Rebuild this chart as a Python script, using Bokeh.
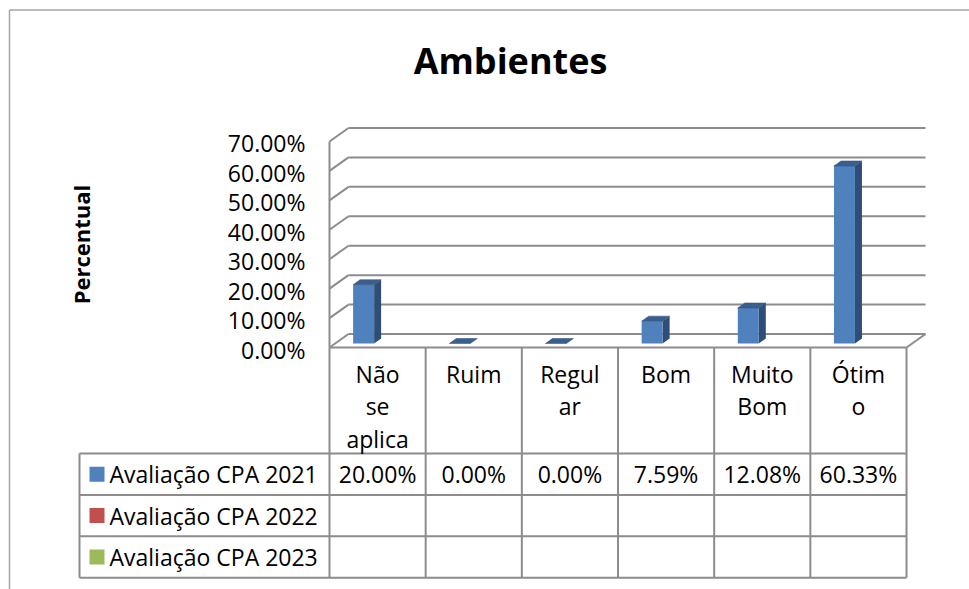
import math
from bokeh.plotting import figure
from bokeh.models import Range1d
from bokeh.core.properties import value
from bokeh.embed import file_html
from bokeh.resources import INLINE

# ---------------- data ----------------
categories = ["Não se aplica", "Ruim", "Regular", "Bom", "Muito Bom", "Ótimo"]
category_lines = ["Não\nse\naplica", "Ruim", "Regul\nar", "Bom", "Muito\nBom", "Ótim\no"]
series_names = ["Avaliação CPA 2021", "Avaliação CPA 2022", "Avaliação CPA 2023"]
values_2021 = [0.20, 0.0, 0.0, 0.0759, 0.1208, 0.6033]
values_2022 = [None, None, None, None, None, None]
values_2023 = [None, None, None, None, None, None]
series_values = [values_2021, values_2022, values_2023]
y_ticks = [0.0, 0.1, 0.2, 0.3, 0.4, 0.5, 0.6, 0.7]
title_text = "Ambientes"
y_label = "Percentual"

# ---------------- layout / style ----------------
W, H = 969, 589
COL_PX = 96.17          # pixels per category column
UNIT_PX = 294.3         # pixels per 100 %
ORIGIN_X, ORIGIN_Y = 329, 347   # canvas px of front-left floor corner
FONT = "Open Sans"
TXT = "23px"
GRID_C = "#8c8c8c"
FRONT_C = ["#4F81BD", "#C0504D", "#9BBB59"]
SIDE_C = ["#2F4D75", "#7A302E", "#5E7A33"]
TOP_C = ["#3A5F8E", "#93403D", "#799848"]

def px_x(px):
    return px / COL_PX

def px_y(px):
    return px / UNIT_PX

xs = -0.5 - px_x(ORIGIN_X)
xe = xs + px_x(W)
ye = px_y(ORIGIN_Y)
ys = ye - px_y(H)

DDX, DDY = px_x(19), px_y(13.5)     # wall depth
BW = px_x(21)                        # bar width
BDX, BDY = px_x(7), px_y(5)          # bar depth
F = 0.37                             # bar depth position
XL, XR = -0.5, len(categories) - 0.5

p = figure(width=W, height=H, x_range=Range1d(xs, xe), y_range=Range1d(ys, ye),
           x_axis_type=None, y_axis_type=None, toolbar_location=None,
           output_backend="svg", min_border=0, outline_line_color=None)
p.grid.visible = False
p.background_fill_color = "white"
p.border_fill_color = "white"

# outer chart border (left and top)
bx = xs + px_x(9)
by = ye - px_y(9.5)
p.segment(x0=[bx, bx], y0=[by, by], x1=[bx, xe], y1=[ys, by], line_color="#a6a6a6", line_width=1.5)

# title
p.text(x=[XL + px_x(510 - ORIGIN_X)], y=[ye - px_y(60)], text=[title_text], text_font=value(FONT),
       text_font_size="36px", text_font_style="bold", text_align="center",
       text_baseline="middle", text_color="black")

# y axis label
p.text(x=[xs + px_x(80)], y=[ye - px_y(244)], text=[y_label], angle=math.pi / 2,
       text_font=value(FONT), text_font_size="22px", text_font_style="bold",
       text_align="center", text_baseline="middle", text_color="black")

# walls: back gridlines, side diagonals, front-left edge, floor
top_v = y_ticks[-1]
p.segment(x0=[XL + DDX] * len(y_ticks), y0=[v + DDY for v in y_ticks],
          x1=[XR + DDX] * len(y_ticks), y1=[v + DDY for v in y_ticks],
          line_color=GRID_C, line_width=2)
p.segment(x0=[XL] * len(y_ticks), y0=y_ticks, x1=[XL + DDX] * len(y_ticks),
          y1=[v + DDY for v in y_ticks], line_color=GRID_C, line_width=2)
p.segment(x0=[XL, XL, XR], y0=[0, 0, 0], x1=[XL, XR, XR + DDX], y1=[top_v, 0, DDY],
          line_color=GRID_C, line_width=2)

# tick labels
p.text(x=[XL - px_x(24)] * len(y_ticks), y=[v - px_y(2) for v in y_ticks],
       text=[f"{v * 100:.2f}%" for v in y_ticks], text_font=value(FONT),
       text_font_size=TXT, text_align="right", text_baseline="middle", text_color="black")

# 3D bars
for s, vals in enumerate(series_values):
    fx, fy, sx, sy, tx, ty = [], [], [], [], [], []
    for i, v in enumerate(vals):
        if v is None:
            continue
        c = i + (s - 1) * BW + F * DDX
        x0, x1 = c - BW / 2, c + BW / 2
        y0 = F * DDY - px_y(1)
        y1 = y0 + v
        fx.append([x0, x1, x1, x0]); fy.append([y0, y0, y1, y1])
        sx.append([x1, x1 + BDX, x1 + BDX, x1]); sy.append([y0, y0 + BDY, y1 + BDY, y1])
        tx.append([x0, x1, x1 + BDX, x0 + BDX]); ty.append([y1, y1, y1 + BDY, y1 + BDY])
    if fx:
        p.patches(sx, sy, fill_color=SIDE_C[s], line_color=None)
        p.patches(fx, fy, fill_color=FRONT_C[s], line_color=None)
        p.patches(tx, ty, fill_color=TOP_C[s], line_color=SIDE_C[s], line_width=0.5)

# data table
HDR = px_y(106)
ROW = px_y(41.4)
LEG_L = XL - px_x(250)
n_rows = len(series_names)
row_top = [-HDR - r * ROW for r in range(n_rows + 1)]
edges = [XL + k for k in range(len(categories) + 1)]
# vertical lines
p.segment(x0=edges, y0=[0] * len(edges), x1=edges, y1=[row_top[-1]] * len(edges),
          line_color=GRID_C, line_width=2)
# horizontal row lines
p.segment(x0=[LEG_L] * len(row_top), y0=row_top, x1=[XR] * len(row_top), y1=row_top,
          line_color=GRID_C, line_width=2)
# legend column left edge
p.segment(x0=[LEG_L], y0=[row_top[0]], x1=[LEG_L], y1=[row_top[-1]],
          line_color=GRID_C, line_width=2)

# category header text
LINE_H = px_y(32.5)
cx, cy, ct = [], [], []
for i, lab in enumerate(category_lines):
    for k, part in enumerate(lab.split("\n")):
        cx.append(i); cy.append(-px_y(26) - k * LINE_H); ct.append(part)
p.text(x=cx, y=cy, text=ct, text_font=value(FONT), text_font_size=TXT,
       text_align="center", text_baseline="middle", text_color="black")

# legend entries + values
row_mid = [row_top[r] - ROW / 2 for r in range(n_rows)]
p.scatter(x=[LEG_L + px_x(17.5)] * n_rows, y=row_mid, marker="square", size=15,
          fill_color=FRONT_C[:n_rows], line_color=None)
p.text(x=[LEG_L + px_x(30)] * n_rows, y=row_mid, text=series_names, text_font=value(FONT),
       text_font_size=TXT, text_align="left", text_baseline="middle", text_color="black")
vx, vy, vt = [], [], []
for r, vals in enumerate(series_values):
    for i, v in enumerate(vals):
        if v is None:
            continue
        vx.append(i); vy.append(row_mid[r]); vt.append(f"{v * 100:.2f}%")
p.text(x=vx, y=vy, text=vt, text_font=value(FONT), text_font_size=TXT,
       text_align="center", text_baseline="middle", text_color="black")

open("out.html", "w").write(file_html(p, INLINE))
